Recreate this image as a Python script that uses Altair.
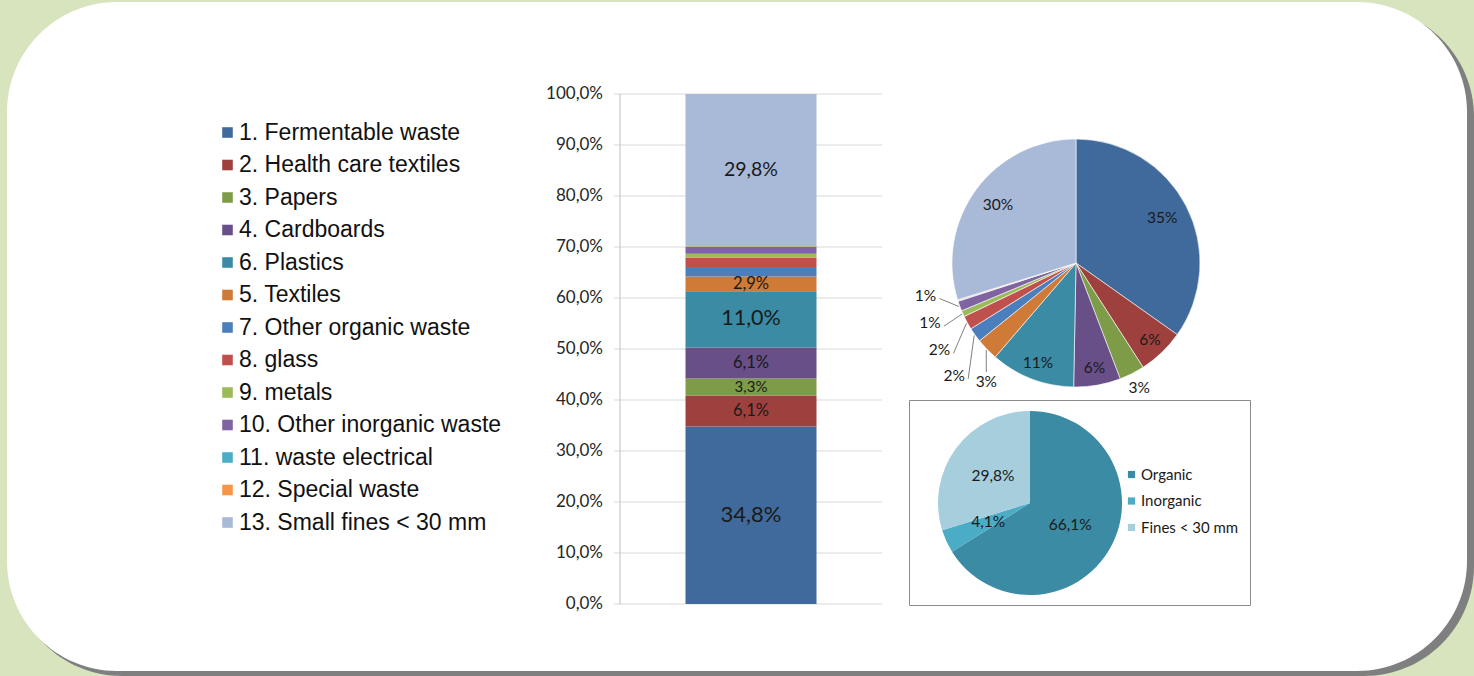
import altair as alt
import pandas as pd

# ---------------- data ----------------
categories = [
    "1. Fermentable waste", "2. Health care textiles", "3. Papers", "4. Cardboards",
    "6. Plastics", "5. Textiles", "7. Other organic waste", "8. glass", "9. metals",
    "10. Other inorganic waste", "11. waste electrical", "12. Special waste",
    "13. Small fines < 30 mm",
]
shares = [34.8, 6.1, 3.3, 6.1, 11.0, 2.9, 1.9, 1.8, 0.8, 1.3, 0.1, 0.1, 29.8]

groups = ["Organic", "Inorganic", "Fines < 30 mm"]
group_shares = [66.1, 4.1, 29.8]

y_ticks = [0, 10, 20, 30, 40, 50, 60, 70, 80, 90, 100]

# ---------------- styles ----------------
colors = ["#3F6A9B", "#9E413E", "#7E9B48", "#684F87", "#3A8BA3", "#CF7A36",
          "#4A7EBC", "#C0504D", "#9BBB59", "#8064A2", "#4BACC6", "#F79646", "#A9B9D8"]
group_colors = ["#3A8BA3", "#4BACC6", "#A6CEDC"]
CAL = "Lato"

df = pd.DataFrame({"category": categories, "share": shares,
                   "order": list(range(len(categories))), "bar": "all"})
gdf = pd.DataFrame({"group": groups, "share": group_shares, "order": [0, 1, 2]})
tdf = pd.DataFrame({"t": y_ticks})
one = pd.DataFrame({"k": [0]})

cscale = alt.Scale(domain=categories, range=colors)
yscale = alt.Scale(domain=[0, 100], range=[604, 94])
xscale = alt.Scale(range=[620, 882], paddingInner=0, paddingOuter=0.5)

# ---------------- background panel ----------------
shadow = alt.Chart(one).mark_rect(cornerRadius=110, color="#7F7F7F").encode(
    x=alt.value(12), x2=alt.value(1474), y=alt.value(7), y2=alt.value(676))
panel = alt.Chart(one).mark_rect(cornerRadius=110, color="#FFFFFF").encode(
    x=alt.value(7), x2=alt.value(1467), y=alt.value(2), y2=alt.value(671))

# ---------------- stacked bar ----------------
grid = alt.Chart(tdf).mark_rule(color="#D9D9D9", strokeWidth=1).encode(
    y=alt.Y("t:Q", scale=yscale, axis=None), x=alt.value(614), x2=alt.value(882))
axis_line = alt.Chart(one).mark_rule(color="#BFBFBF", strokeWidth=1).encode(
    x=alt.value(620), y=alt.value(94), y2=alt.value(604))
tick_labels = alt.Chart(tdf).transform_calculate(
    lab="replace(format(datum.t, '.1f'), '.', ',') + '%'"
).mark_text(align="right", baseline="middle", font=CAL, fontSize=17, color="#262626").encode(
    y=alt.Y("t:Q", scale=yscale, axis=None), x=alt.value(603), text="lab:N")

bar = alt.Chart(df).mark_bar().encode(
    x=alt.X("bar:N", scale=xscale, axis=None),
    y=alt.Y("share:Q", stack="zero", scale=yscale, axis=None),
    color=alt.Color("category:N", scale=cscale, legend=alt.Legend(
        orient="none", legendX=216, legendY=121, title=None, padding=0,
        symbolType="square", symbolSize=112, symbolStrokeWidth=0,
        labelFont="Liberation Sans", labelFontSize=23, labelColor="#111111",
        labelOffset=0, rowPadding=8.5, labelLimit=400)),
    order=alt.Order("order:Q"),
)

labeled = [c for c, s in zip(categories, shares) if s >= 2.5]
bar_labels = alt.Chart(df).transform_stack(
    stack="share", groupby=["bar"], sort=[alt.SortField("order")], as_=["y0", "y1"]
).transform_filter("datum.share >= 2.5").transform_calculate(
    mid="(datum.y0 + datum.y1) / 2",
    lab="replace(format(datum.share, '.1f'), '.', ',') + '%'",
).mark_text(font=CAL, color="#1A1A1A", baseline="middle").encode(
    x=alt.X("bar:N", scale=xscale, axis=None),
    y=alt.Y("mid:Q", scale=yscale, axis=None),
    text="lab:N",
    size=alt.Size("category:N", legend=None,
                  scale=alt.Scale(type="ordinal", domain=labeled,
                                  range=[22, 16.5, 15, 16.5, 21.5, 16.5, 19.5])),
)
bar_layer = alt.layer(grid, axis_line, tick_labels, bar, bar_labels)

# ---------------- big pie ----------------
CX, CY, R = 1076, 263, 124
pie = alt.Chart(df).mark_arc(outerRadius=R, stroke="#FFFFFF", strokeWidth=0.6).encode(
    theta=alt.Theta("share:Q", stack=True),
    color=alt.Color("category:N", scale=cscale, legend=None),
    order=alt.Order("order:Q"),
    x=alt.value(CX), y=alt.value(CY),
)

pie_base = alt.Chart(df).transform_joinaggregate(total="sum(share)").transform_window(
    cum="sum(share)", sort=[alt.SortField("order")], frame=[None, 0]
).transform_filter("datum.share >= 0.5").transform_calculate(
    small="datum.share < 3 ? 1 : 0"
).transform_window(
    k="row_number()", groupby=["small"], sort=[alt.SortField("order")]
).transform_calculate(
    a="2 * PI * (datum.cum - datum.share / 2) / datum.total",
).transform_calculate(
    la="datum.small ? (217 + 10.2 * (datum.k - 1)) * PI / 180 : datum.a",
    lr="datum.small ? (datum.k == 1 ? 149 : 170 - 4 * (datum.k - 1)) : (datum.share >= 20 ? 97 : (datum.share >= 5 ? 107 : 140))",
).transform_calculate(
    lx=f"{CX} + datum.lr * sin(datum.la)",
    ly=f"{CY} - datum.lr * cos(datum.la)",
    ex=f"{CX} + {R + 1} * sin(datum.a)",
    ey=f"{CY} - {R + 1} * cos(datum.a)",
    lab="format(datum.share, '.0f') + '%'",
).transform_calculate(
    sx="datum.k == 1 ? datum.lx : datum.lx + 14",
    sy="datum.k == 1 ? datum.ly - 10 : datum.ly + 3",
)

pie_text = pie_base.mark_text(font=CAL, fontSize=15.5, color="#1A1A1A", baseline="middle").encode(
    x=alt.X("lx:Q", scale=None), y=alt.Y("ly:Q", scale=None), text="lab:N")
leaders = pie_base.transform_filter("datum.small == 1").mark_rule(
    color="#808080", strokeWidth=1).encode(
    x=alt.X("sx:Q", scale=None), x2="ex:Q", y=alt.Y("sy:Q", scale=None), y2="ey:Q")
pie_layer = alt.layer(pie, leaders, pie_text)

# ---------------- small pie in box ----------------
box = alt.Chart(one).mark_rect(fill="#FFFFFF", stroke="#8C8C8C", strokeWidth=1).encode(
    x=alt.value(909.5), x2=alt.value(1250.5), y=alt.value(400.5), y2=alt.value(605.5))

gscale = alt.Scale(domain=groups, range=group_colors)
spie = alt.Chart(gdf).mark_arc(outerRadius=92).encode(
    theta=alt.Theta("share:Q", stack=True),
    color=alt.Color("group:N", scale=gscale, legend=alt.Legend(
        orient="none", legendX=1124, legendY=467, title=None, padding=0,
        symbolType="square", symbolSize=52, symbolStrokeWidth=0,
        labelFont=CAL, labelFontSize=15, labelColor="#1A1A1A",
        labelOffset=2, rowPadding=10.5, labelLimit=300)),
    order=alt.Order("order:Q"),
    x=alt.value(1030), y=alt.value(503),
)
spie_text = alt.Chart(gdf).transform_calculate(
    lab="replace(format(datum.share, '.1f'), '.', ',') + '%'"
).mark_text(radius=46, font=CAL, fontSize=15.5, color="#1A1A1A", baseline="middle").encode(
    theta=alt.Theta("share:Q", stack=True),
    order=alt.Order("order:Q"),
    x=alt.value(1030), y=alt.value(503),
    text="lab:N",
)
small_layer = alt.layer(spie, spie_text)

chart = alt.layer(shadow, panel, bar_layer, pie_layer, box, small_layer).resolve_scale(
    x="independent", y="independent", color="independent", theta="independent",
    size="independent",
).properties(
    width=1474, height=676, background="#D7E4BD", padding=0, autosize="none",
).configure_view(strokeWidth=0)

chart.save("out.html", embed_options={"renderer": "svg", "actions": False})
